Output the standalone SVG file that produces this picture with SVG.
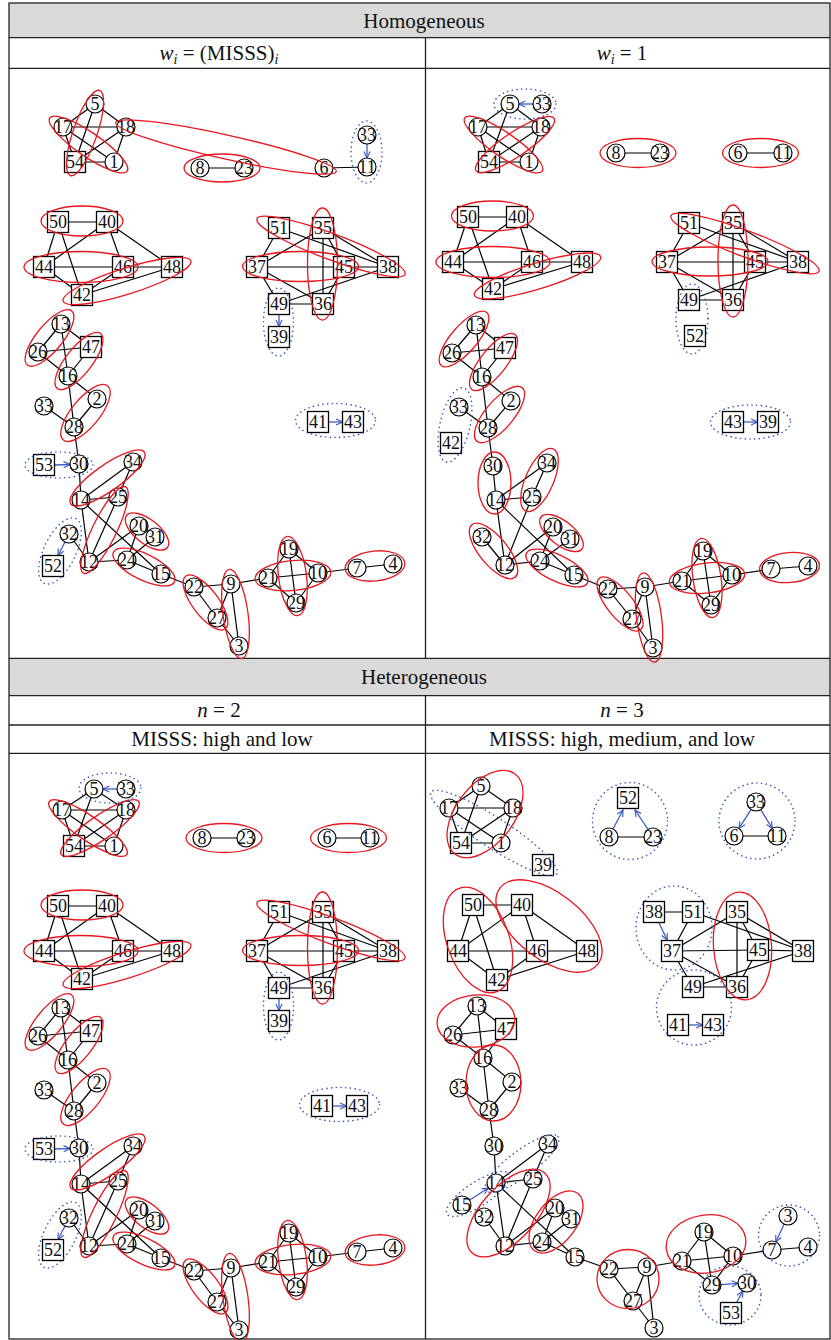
<svg xmlns="http://www.w3.org/2000/svg" width="831" height="1340" viewBox="0 0 831 1340">
<style>
.ln{stroke:#000;stroke-width:1.2;fill:none}
.nc{fill:#fff;stroke:#000;stroke-width:1.2}
.ns{fill:#fff;stroke:#000;stroke-width:1.3}
.nl{font-family:"Liberation Serif","DejaVu Serif",serif;font-size:18px;text-anchor:middle;fill:#111}
.rg{fill:none;stroke:#e8161e;stroke-width:1.3}
.bg{fill:none;stroke:#3b5bb5;stroke-width:1.6;stroke-dasharray:0.1 4.6;stroke-linecap:round}
.ar{stroke:#3f5fc0;stroke-width:1.3;fill:none;marker-end:url(#ah)}
.hd{font-family:"Liberation Serif","DejaVu Serif",serif;font-size:21px;text-anchor:middle;fill:#111}
.tb{fill:none;stroke:#222;stroke-width:1.3}
</style>
<defs>
<marker id="ah" viewBox="0 0 10 10" refX="9" refY="5" markerWidth="8" markerHeight="8" markerUnits="userSpaceOnUse" orient="auto"><path d="M1,1.2 L9,5 L1,8.8" fill="none" stroke="#3f5fc0" stroke-width="1.5"/></marker>
</defs>
<rect width="831" height="1340" fill="#fff"/>
<g id="table">
<rect x="9" y="3" width="821" height="34.7" fill="#d9d9d9"/>
<rect x="9" y="658.3" width="821" height="37.4" fill="#d9d9d9"/>
<rect class="tb" x="9" y="3" width="821" height="1336"/>
<line class="tb" x1="9" y1="37.7" x2="830" y2="37.7"/>
<line class="tb" x1="9" y1="68.3" x2="830" y2="68.3"/>
<line class="tb" x1="9" y1="658.3" x2="830" y2="658.3"/>
<line class="tb" x1="9" y1="695.7" x2="830" y2="695.7"/>
<line class="tb" x1="9" y1="725" x2="830" y2="725"/>
<line class="tb" x1="9" y1="753.3" x2="830" y2="753.3"/>
<line class="tb" x1="425.5" y1="37.7" x2="425.5" y2="658.3"/>
<line class="tb" x1="425.5" y1="695.7" x2="425.5" y2="1339"/>
<text class="hd" x="424" y="27.5">Homogeneous</text>
<text class="hd" x="219" y="60"><tspan font-style="italic">w</tspan><tspan font-style="italic" font-size="14" dy="4">i</tspan><tspan dy="-4"> = (MISSS)</tspan><tspan font-style="italic" font-size="14" dy="4">i</tspan></text>
<text class="hd" x="622" y="60"><tspan font-style="italic">w</tspan><tspan font-style="italic" font-size="14" dy="4">i</tspan><tspan dy="-4"> = 1</tspan></text>
<text class="hd" x="424" y="684">Heterogeneous</text>
<text class="hd" x="219" y="717"><tspan font-style="italic">n</tspan> = 2</text>
<text class="hd" x="622" y="717"><tspan font-style="italic">n</tspan> = 3</text>
<text class="hd" x="222" y="746">MISSS: high and low</text>
<text class="hd" x="622" y="746">MISSS: high, medium, and low</text>
</g>

<!-- ================= TOP LEFT ================= -->
<g id="tl-connectors" class="ln">
<line x1="95" y1="104" x2="63" y2="127"/><line x1="95" y1="104" x2="126" y2="127"/><line x1="95" y1="104" x2="75" y2="162"/>
<line x1="63" y1="127" x2="126" y2="127"/><line x1="63" y1="127" x2="75" y2="162"/><line x1="63" y1="127" x2="114" y2="162"/>
<line x1="126" y1="127" x2="75" y2="162"/><line x1="126" y1="127" x2="114" y2="162"/><line x1="75" y1="162" x2="114" y2="162"/>
<line x1="200" y1="168" x2="244" y2="168"/><line x1="324" y1="168" x2="367" y2="167"/>
<line class="ar" x1="367" y1="144" x2="367" y2="158"/>
</g>
<g id="tl-connectors-main" class="ln">
<line x1="58" y1="222" x2="107" y2="222"/><line x1="58" y1="222" x2="44" y2="267"/><line x1="58" y1="222" x2="82" y2="295"/>
<line x1="107" y1="222" x2="44" y2="267"/><line x1="107" y1="222" x2="123" y2="267"/><line x1="107" y1="222" x2="172" y2="267"/>
<line x1="44" y1="267" x2="123" y2="267"/><line x1="44" y1="267" x2="82" y2="295"/><line x1="123" y1="267" x2="172" y2="267"/>
<line x1="123" y1="267" x2="82" y2="295"/><line x1="172" y1="267" x2="82" y2="295"/>
<line x1="279" y1="228" x2="257" y2="267"/><line x1="279" y1="228" x2="388" y2="267"/><line x1="323" y1="228" x2="257" y2="267"/>
<line x1="323" y1="228" x2="344" y2="267"/><line x1="323" y1="228" x2="388" y2="267"/><line x1="323" y1="228" x2="323" y2="304"/>
<line x1="257" y1="267" x2="344" y2="267"/><line x1="344" y1="267" x2="388" y2="267"/><line x1="257" y1="267" x2="323" y2="304"/>
<line x1="257" y1="267" x2="279" y2="304"/><line x1="279" y1="304" x2="323" y2="304"/><line x1="279" y1="304" x2="388" y2="267"/>
<line x1="344" y1="267" x2="323" y2="304"/>
<line x1="61" y1="324" x2="38" y2="352"/><line x1="61" y1="324" x2="91" y2="347"/><line x1="61" y1="324" x2="68" y2="376"/>
<line x1="38" y1="352" x2="91" y2="347"/><line x1="38" y1="352" x2="68" y2="376"/><line x1="91" y1="347" x2="68" y2="376"/>
<line x1="68" y1="376" x2="97" y2="399"/><line x1="68" y1="376" x2="74" y2="427"/><line x1="97" y1="399" x2="74" y2="427"/>
<line x1="44" y1="406" x2="74" y2="427"/><line x1="74" y1="427" x2="79" y2="464"/><line x1="79" y1="464" x2="81" y2="500"/>
<line x1="81" y1="500" x2="133" y2="462"/><line x1="133" y1="462" x2="118" y2="497"/><line x1="81" y1="500" x2="118" y2="497"/>
<line x1="81" y1="500" x2="89" y2="562"/><line x1="81" y1="500" x2="161" y2="574"/><line x1="118" y1="497" x2="89" y2="562"/>
<line x1="69" y1="534" x2="89" y2="562"/><line x1="89" y1="562" x2="127" y2="560"/><line x1="89" y1="562" x2="139" y2="526"/>
<line x1="127" y1="560" x2="139" y2="526"/><line x1="127" y1="560" x2="155" y2="537"/><line x1="127" y1="560" x2="161" y2="574"/>
<line x1="161" y1="574" x2="194" y2="587"/><line x1="194" y1="587" x2="231" y2="584"/><line x1="194" y1="587" x2="217" y2="618"/>
<line x1="231" y1="584" x2="217" y2="618"/><line x1="231" y1="584" x2="239" y2="646"/><line x1="217" y1="618" x2="239" y2="646"/>
<line x1="231" y1="584" x2="268" y2="578"/><line x1="268" y1="578" x2="289" y2="549"/><line x1="268" y1="578" x2="318" y2="573"/>
<line x1="268" y1="578" x2="296" y2="603"/><line x1="289" y1="549" x2="318" y2="573"/><line x1="289" y1="549" x2="296" y2="603"/>
<line x1="318" y1="573" x2="296" y2="603"/><line x1="318" y1="573" x2="357" y2="568"/><line x1="357" y1="568" x2="393" y2="564"/>
<line class="ar" x1="279" y1="314.5" x2="279" y2="326.5"/>
<line class="ar" x1="54.5" y1="465" x2="70" y2="464.5"/>
<line class="ar" x1="328.5" y1="422" x2="342.5" y2="422"/>
<line class="ar" x1="65" y1="542" x2="58" y2="555.5"/>
</g>
<g id="tl-nodes">
<g id="tl-5"><circle class="nc" cx="95" cy="104" r="9"/><text class="nl" x="95" y="110">5</text></g>
<g id="tl-17"><circle class="nc" cx="63" cy="127" r="9"/><text class="nl" x="63" y="133">17</text></g>
<g id="tl-18"><circle class="nc" cx="126" cy="127" r="9"/><text class="nl" x="126" y="133">18</text></g>
<g id="tl-54"><rect class="ns" x="64.5" y="151.5" width="21" height="21"/><text class="nl" x="75" y="168">54</text></g>
<g id="tl-1"><circle class="nc" cx="114" cy="162" r="9"/><text class="nl" x="114" y="168">1</text></g>
<g id="tl-8"><circle class="nc" cx="200" cy="168" r="9"/><text class="nl" x="200" y="174">8</text></g>
<g id="tl-23"><circle class="nc" cx="244" cy="168" r="9"/><text class="nl" x="244" y="174">23</text></g>
<g id="tl-6"><circle class="nc" cx="324" cy="168" r="9"/><text class="nl" x="324" y="174">6</text></g>
<g id="tl-11"><circle class="nc" cx="367" cy="167" r="9"/><text class="nl" x="367" y="173">11</text></g>
<g id="tl-33"><circle class="nc" cx="367" cy="135" r="9"/><text class="nl" x="367" y="141">33</text></g>
<g id="tl-50"><rect class="ns" x="47.5" y="211.5" width="21" height="21"/><text class="nl" x="58" y="228">50</text></g>
<g id="tl-40"><rect class="ns" x="96.5" y="211.5" width="21" height="21"/><text class="nl" x="107" y="228">40</text></g>
<g id="tl-44"><rect class="ns" x="33.5" y="256.5" width="21" height="21"/><text class="nl" x="44" y="273">44</text></g>
<g id="tl-46"><rect class="ns" x="112.5" y="256.5" width="21" height="21"/><text class="nl" x="123" y="273">46</text></g>
<g id="tl-48"><rect class="ns" x="161.5" y="256.5" width="21" height="21"/><text class="nl" x="172" y="273">48</text></g>
<g id="tl-42"><rect class="ns" x="71.5" y="284.5" width="21" height="21"/><text class="nl" x="82" y="301">42</text></g>
<g id="tl-51"><rect class="ns" x="268.5" y="217.5" width="21" height="21"/><text class="nl" x="279" y="234">51</text></g>
<g id="tl-35"><rect class="ns" x="312.5" y="217.5" width="21" height="21"/><text class="nl" x="323" y="234">35</text></g>
<g id="tl-37"><rect class="ns" x="246.5" y="256.5" width="21" height="21"/><text class="nl" x="257" y="273">37</text></g>
<g id="tl-45"><rect class="ns" x="333.5" y="256.5" width="21" height="21"/><text class="nl" x="344" y="273">45</text></g>
<g id="tl-38"><rect class="ns" x="377.5" y="256.5" width="21" height="21"/><text class="nl" x="388" y="273">38</text></g>
<g id="tl-49"><rect class="ns" x="268.5" y="293.5" width="21" height="21"/><text class="nl" x="279" y="310">49</text></g>
<g id="tl-36"><rect class="ns" x="312.5" y="293.5" width="21" height="21"/><text class="nl" x="323" y="310">36</text></g>
<g id="tl-39"><rect class="ns" x="268.5" y="326.5" width="21" height="21"/><text class="nl" x="279" y="343">39</text></g>
<g id="tl-13"><circle class="nc" cx="61" cy="324" r="9"/><text class="nl" x="61" y="330">13</text></g>
<g id="tl-26"><circle class="nc" cx="38" cy="352" r="9"/><text class="nl" x="38" y="358">26</text></g>
<g id="tl-47"><rect class="ns" x="80.5" y="336.5" width="21" height="21"/><text class="nl" x="91" y="353">47</text></g>
<g id="tl-16"><circle class="nc" cx="68" cy="376" r="9"/><text class="nl" x="68" y="382">16</text></g>
<g id="tl-2"><circle class="nc" cx="97" cy="399" r="9"/><text class="nl" x="97" y="405">2</text></g>
<g id="tl-33b"><circle class="nc" cx="44" cy="406" r="9"/><text class="nl" x="44" y="412">33</text></g>
<g id="tl-28"><circle class="nc" cx="74" cy="427" r="9"/><text class="nl" x="74" y="433">28</text></g>
<g id="tl-53"><rect class="ns" x="33.5" y="454.5" width="21" height="21"/><text class="nl" x="44" y="471">53</text></g>
<g id="tl-30"><circle class="nc" cx="79" cy="464" r="9"/><text class="nl" x="79" y="470">30</text></g>
<g id="tl-34"><circle class="nc" cx="133" cy="462" r="9"/><text class="nl" x="133" y="468">34</text></g>
<g id="tl-41"><rect class="ns" x="307.5" y="411.5" width="21" height="21"/><text class="nl" x="318" y="428">41</text></g>
<g id="tl-43"><rect class="ns" x="342.5" y="411.5" width="21" height="21"/><text class="nl" x="353" y="428">43</text></g>
<g id="tl-14"><circle class="nc" cx="81" cy="500" r="9"/><text class="nl" x="81" y="506">14</text></g>
<g id="tl-25"><circle class="nc" cx="118" cy="497" r="9"/><text class="nl" x="118" y="503">25</text></g>
<g id="tl-32"><circle class="nc" cx="69" cy="534" r="9"/><text class="nl" x="69" y="540">32</text></g>
<g id="tl-52"><rect class="ns" x="42.5" y="555.5" width="21" height="21"/><text class="nl" x="53" y="572">52</text></g>
<g id="tl-12"><circle class="nc" cx="89" cy="562" r="9"/><text class="nl" x="89" y="568">12</text></g>
<g id="tl-20"><circle class="nc" cx="139" cy="526" r="9"/><text class="nl" x="139" y="532">20</text></g>
<g id="tl-31"><circle class="nc" cx="155" cy="537" r="9"/><text class="nl" x="155" y="543">31</text></g>
<g id="tl-24"><circle class="nc" cx="127" cy="560" r="9"/><text class="nl" x="127" y="566">24</text></g>
<g id="tl-15"><circle class="nc" cx="161" cy="574" r="9"/><text class="nl" x="161" y="580">15</text></g>
<g id="tl-22"><circle class="nc" cx="194" cy="587" r="9"/><text class="nl" x="194" y="593">22</text></g>
<g id="tl-9"><circle class="nc" cx="231" cy="584" r="9"/><text class="nl" x="231" y="590">9</text></g>
<g id="tl-27"><circle class="nc" cx="217" cy="618" r="9"/><text class="nl" x="217" y="624">27</text></g>
<g id="tl-3"><circle class="nc" cx="239" cy="646" r="9"/><text class="nl" x="239" y="652">3</text></g>
<g id="tl-21"><circle class="nc" cx="268" cy="578" r="9"/><text class="nl" x="268" y="584">21</text></g>
<g id="tl-19"><circle class="nc" cx="289" cy="549" r="9"/><text class="nl" x="289" y="555">19</text></g>
<g id="tl-10"><circle class="nc" cx="318" cy="573" r="9"/><text class="nl" x="318" y="579">10</text></g>
<g id="tl-29"><circle class="nc" cx="296" cy="603" r="9"/><text class="nl" x="296" y="609">29</text></g>
<g id="tl-7"><circle class="nc" cx="357" cy="568" r="9"/><text class="nl" x="357" y="574">7</text></g>
<g id="tl-4"><circle class="nc" cx="393" cy="564" r="9"/><text class="nl" x="393" y="570">4</text></g>
</g>
<g id="tl-groups">
<ellipse class="rg" cx="85" cy="133" rx="45" ry="12" transform="rotate(109 85 133)"/>
<ellipse class="rg" cx="88.5" cy="144.5" rx="47" ry="12" transform="rotate(34.5 88.5 144.5)"/>
<ellipse class="rg" cx="226" cy="147" rx="113" ry="12" transform="rotate(12.5 226 147)"/>
<ellipse class="rg" cx="222" cy="168" rx="38" ry="14"/>
<ellipse class="bg" cx="366.5" cy="152" rx="15.5" ry="31"/>
</g>
<g id="tl-groups-main">
<ellipse class="rg" cx="82" cy="221" rx="41" ry="15"/>
<ellipse class="rg" cx="81" cy="267" rx="57" ry="15.5"/>
<ellipse class="rg" cx="127" cy="281" rx="67" ry="13" transform="rotate(-17.5 127 281)"/>
<ellipse class="rg" cx="331" cy="246.5" rx="79" ry="13" transform="rotate(20.5 331 246.5)"/>
<ellipse class="rg" cx="300.5" cy="266.5" rx="58" ry="15"/>
<ellipse class="rg" cx="322.5" cy="264" rx="15" ry="56"/>
<ellipse class="rg" cx="49.5" cy="338" rx="35" ry="13" transform="rotate(-50.6 49.5 338)"/>
<ellipse class="rg" cx="79" cy="361" rx="35" ry="13" transform="rotate(-51.6 79 361)"/>
<ellipse class="rg" cx="85.5" cy="413" rx="35" ry="14" transform="rotate(-50.6 85.5 413)"/>
<ellipse class="rg" cx="107.5" cy="478" rx="45" ry="13" transform="rotate(-35 107.5 478)"/>
<ellipse class="rg" cx="104.5" cy="530" rx="48" ry="12" transform="rotate(116 104.5 530)"/>
<ellipse class="rg" cx="147" cy="531.5" rx="26" ry="12" transform="rotate(38 147 531.5)"/>
<ellipse class="rg" cx="144" cy="567" rx="34" ry="13" transform="rotate(26 144 567)"/>
<ellipse class="rg" cx="205.5" cy="602.5" rx="33" ry="13" transform="rotate(53 205.5 602.5)"/>
<ellipse class="rg" cx="235.5" cy="614" rx="45" ry="12.5" transform="rotate(82 235.5 614)"/>
<ellipse class="rg" cx="292.5" cy="576" rx="40" ry="14" transform="rotate(82.6 292.5 576)"/>
<ellipse class="rg" cx="293" cy="575.5" rx="38" ry="15" transform="rotate(-5.7 293 575.5)"/>
<ellipse class="rg" cx="375" cy="566" rx="30" ry="15" transform="rotate(-6 375 566)"/>
<ellipse class="bg" cx="278.5" cy="322" rx="15" ry="34"/>
<ellipse class="bg" cx="59" cy="465" rx="34" ry="13"/>
<ellipse class="bg" cx="335.5" cy="420.5" rx="40" ry="17"/>
<ellipse class="bg" cx="60" cy="551" rx="36" ry="16" transform="rotate(116 60 551)"/>
</g>

<!-- ================= TOP RIGHT ================= -->
<g id="tr-connectors" class="ln">
<line x1="510" y1="104" x2="478" y2="127"/><line x1="510" y1="104" x2="541" y2="127"/><line x1="510" y1="104" x2="489" y2="162"/>
<line x1="478" y1="127" x2="541" y2="127"/><line x1="478" y1="127" x2="489" y2="162"/><line x1="478" y1="127" x2="529" y2="162"/>
<line x1="541" y1="127" x2="489" y2="162"/><line x1="541" y1="127" x2="529" y2="162"/><line x1="489" y1="162" x2="529" y2="162"/>
<line x1="616" y1="153" x2="660" y2="153"/><line x1="738" y1="153" x2="783" y2="153"/>
<line x1="468" y1="217" x2="517" y2="217"/><line x1="468" y1="217" x2="453" y2="262"/><line x1="468" y1="217" x2="493" y2="289"/>
<line x1="517" y1="217" x2="453" y2="262"/><line x1="517" y1="217" x2="532" y2="262"/><line x1="517" y1="217" x2="582" y2="262"/>
<line x1="453" y1="262" x2="532" y2="262"/><line x1="453" y1="262" x2="493" y2="289"/><line x1="532" y1="262" x2="582" y2="262"/>
<line x1="532" y1="262" x2="493" y2="289"/><line x1="582" y1="262" x2="493" y2="289"/>
<line x1="689" y1="223" x2="667" y2="262"/><line x1="689" y1="223" x2="798" y2="262"/><line x1="733" y1="223" x2="667" y2="262"/>
<line x1="733" y1="223" x2="755" y2="262"/><line x1="733" y1="223" x2="798" y2="262"/><line x1="733" y1="223" x2="733" y2="300"/>
<line x1="667" y1="262" x2="755" y2="262"/><line x1="755" y1="262" x2="798" y2="262"/><line x1="667" y1="262" x2="733" y2="300"/>
<line x1="667" y1="262" x2="689" y2="300"/><line x1="689" y1="300" x2="733" y2="300"/><line x1="689" y1="300" x2="798" y2="262"/>
<line x1="755" y1="262" x2="733" y2="300"/>
<line x1="476" y1="325" x2="452" y2="353"/><line x1="476" y1="325" x2="505" y2="348"/><line x1="476" y1="325" x2="482" y2="377"/>
<line x1="452" y1="353" x2="505" y2="348"/><line x1="452" y1="353" x2="482" y2="377"/><line x1="505" y1="348" x2="482" y2="377"/>
<line x1="482" y1="377" x2="511" y2="401"/><line x1="482" y1="377" x2="488" y2="428"/><line x1="511" y1="401" x2="488" y2="428"/>
<line x1="459" y1="407" x2="488" y2="428"/><line x1="488" y1="428" x2="493" y2="466"/><line x1="493" y1="466" x2="496" y2="500"/>
<line x1="496" y1="500" x2="547" y2="463"/><line x1="547" y1="463" x2="532" y2="497"/><line x1="496" y1="500" x2="532" y2="497"/>
<line x1="496" y1="500" x2="505" y2="565"/><line x1="496" y1="500" x2="574" y2="575"/><line x1="532" y1="497" x2="505" y2="565"/>
<line x1="482" y1="537" x2="505" y2="565"/><line x1="505" y1="565" x2="540" y2="561"/><line x1="505" y1="565" x2="553" y2="527"/>
<line x1="540" y1="561" x2="553" y2="527"/><line x1="540" y1="561" x2="570" y2="539"/><line x1="540" y1="561" x2="574" y2="575"/>
<line x1="574" y1="575" x2="608" y2="589"/><line x1="608" y1="589" x2="645" y2="587"/><line x1="608" y1="589" x2="632" y2="619"/>
<line x1="645" y1="587" x2="632" y2="619"/><line x1="645" y1="587" x2="653" y2="648"/><line x1="632" y1="619" x2="653" y2="648"/>
<line x1="645" y1="587" x2="682" y2="581"/><line x1="682" y1="581" x2="703" y2="551"/><line x1="682" y1="581" x2="732" y2="575"/>
<line x1="682" y1="581" x2="711" y2="605"/><line x1="703" y1="551" x2="732" y2="575"/><line x1="703" y1="551" x2="711" y2="605"/>
<line x1="732" y1="575" x2="711" y2="605"/><line x1="732" y1="575" x2="771" y2="569"/><line x1="771" y1="569" x2="808" y2="566"/>
<line class="ar" x1="533" y1="104" x2="519" y2="104"/>
<line class="ar" x1="743.5" y1="422" x2="757.5" y2="422"/>
</g>
<g id="tr-nodes">
<g id="tr-5"><circle class="nc" cx="510" cy="104" r="9"/><text class="nl" x="510" y="110">5</text></g>
<g id="tr-33"><circle class="nc" cx="542" cy="104" r="9"/><text class="nl" x="542" y="110">33</text></g>
<g id="tr-17"><circle class="nc" cx="478" cy="127" r="9"/><text class="nl" x="478" y="133">17</text></g>
<g id="tr-18"><circle class="nc" cx="541" cy="127" r="9"/><text class="nl" x="541" y="133">18</text></g>
<g id="tr-54"><rect class="ns" x="478.5" y="151.5" width="21" height="21"/><text class="nl" x="489" y="168">54</text></g>
<g id="tr-1"><circle class="nc" cx="529" cy="162" r="9"/><text class="nl" x="529" y="168">1</text></g>
<g id="tr-8"><circle class="nc" cx="616" cy="153" r="9"/><text class="nl" x="616" y="159">8</text></g>
<g id="tr-23"><circle class="nc" cx="660" cy="153" r="9"/><text class="nl" x="660" y="159">23</text></g>
<g id="tr-6"><circle class="nc" cx="738" cy="153" r="9"/><text class="nl" x="738" y="159">6</text></g>
<g id="tr-11"><circle class="nc" cx="783" cy="153" r="9"/><text class="nl" x="783" y="159">11</text></g>
<g id="tr-50"><rect class="ns" x="457.5" y="206.5" width="21" height="21"/><text class="nl" x="468" y="223">50</text></g>
<g id="tr-40"><rect class="ns" x="506.5" y="206.5" width="21" height="21"/><text class="nl" x="517" y="223">40</text></g>
<g id="tr-44"><rect class="ns" x="442.5" y="251.5" width="21" height="21"/><text class="nl" x="453" y="268">44</text></g>
<g id="tr-46"><rect class="ns" x="521.5" y="251.5" width="21" height="21"/><text class="nl" x="532" y="268">46</text></g>
<g id="tr-48"><rect class="ns" x="571.5" y="251.5" width="21" height="21"/><text class="nl" x="582" y="268">48</text></g>
<g id="tr-42"><rect class="ns" x="482.5" y="278.5" width="21" height="21"/><text class="nl" x="493" y="295">42</text></g>
<g id="tr-51"><rect class="ns" x="678.5" y="212.5" width="21" height="21"/><text class="nl" x="689" y="229">51</text></g>
<g id="tr-35"><rect class="ns" x="722.5" y="212.5" width="21" height="21"/><text class="nl" x="733" y="229">35</text></g>
<g id="tr-37"><rect class="ns" x="656.5" y="251.5" width="21" height="21"/><text class="nl" x="667" y="268">37</text></g>
<g id="tr-45"><rect class="ns" x="744.5" y="251.5" width="21" height="21"/><text class="nl" x="755" y="268">45</text></g>
<g id="tr-38"><rect class="ns" x="787.5" y="251.5" width="21" height="21"/><text class="nl" x="798" y="268">38</text></g>
<g id="tr-49"><rect class="ns" x="678.5" y="289.5" width="21" height="21"/><text class="nl" x="689" y="306">49</text></g>
<g id="tr-36"><rect class="ns" x="722.5" y="289.5" width="21" height="21"/><text class="nl" x="733" y="306">36</text></g>
<g id="tr-52"><rect class="ns" x="684.5" y="325.5" width="21" height="21"/><text class="nl" x="695" y="342">52</text></g>
<g id="tr-13"><circle class="nc" cx="476" cy="325" r="9"/><text class="nl" x="476" y="331">13</text></g>
<g id="tr-26"><circle class="nc" cx="452" cy="353" r="9"/><text class="nl" x="452" y="359">26</text></g>
<g id="tr-47"><rect class="ns" x="494.5" y="337.5" width="21" height="21"/><text class="nl" x="505" y="354">47</text></g>
<g id="tr-16"><circle class="nc" cx="482" cy="377" r="9"/><text class="nl" x="482" y="383">16</text></g>
<g id="tr-2"><circle class="nc" cx="511" cy="401" r="9"/><text class="nl" x="511" y="407">2</text></g>
<g id="tr-33b"><circle class="nc" cx="459" cy="407" r="9"/><text class="nl" x="459" y="413">33</text></g>
<g id="tr-28"><circle class="nc" cx="488" cy="428" r="9"/><text class="nl" x="488" y="434">28</text></g>
<g id="tr-42b"><rect class="ns" x="440.5" y="432.5" width="21" height="21"/><text class="nl" x="451" y="449">42</text></g>
<g id="tr-30"><circle class="nc" cx="493" cy="466" r="9"/><text class="nl" x="493" y="472">30</text></g>
<g id="tr-34"><circle class="nc" cx="547" cy="463" r="9"/><text class="nl" x="547" y="469">34</text></g>
<g id="tr-43"><rect class="ns" x="722.5" y="411.5" width="21" height="21"/><text class="nl" x="733" y="428">43</text></g>
<g id="tr-39"><rect class="ns" x="757.5" y="411.5" width="21" height="21"/><text class="nl" x="768" y="428">39</text></g>
<g id="tr-14"><circle class="nc" cx="496" cy="500" r="9"/><text class="nl" x="496" y="506">14</text></g>
<g id="tr-25"><circle class="nc" cx="532" cy="497" r="9"/><text class="nl" x="532" y="503">25</text></g>
<g id="tr-32"><circle class="nc" cx="482" cy="537" r="9"/><text class="nl" x="482" y="543">32</text></g>
<g id="tr-12"><circle class="nc" cx="505" cy="565" r="9"/><text class="nl" x="505" y="571">12</text></g>
<g id="tr-20"><circle class="nc" cx="553" cy="527" r="9"/><text class="nl" x="553" y="533">20</text></g>
<g id="tr-31"><circle class="nc" cx="570" cy="539" r="9"/><text class="nl" x="570" y="545">31</text></g>
<g id="tr-24"><circle class="nc" cx="540" cy="561" r="9"/><text class="nl" x="540" y="567">24</text></g>
<g id="tr-15"><circle class="nc" cx="574" cy="575" r="9"/><text class="nl" x="574" y="581">15</text></g>
<g id="tr-22"><circle class="nc" cx="608" cy="589" r="9"/><text class="nl" x="608" y="595">22</text></g>
<g id="tr-9"><circle class="nc" cx="645" cy="587" r="9"/><text class="nl" x="645" y="593">9</text></g>
<g id="tr-27"><circle class="nc" cx="632" cy="619" r="9"/><text class="nl" x="632" y="625">27</text></g>
<g id="tr-3"><circle class="nc" cx="653" cy="648" r="9"/><text class="nl" x="653" y="654">3</text></g>
<g id="tr-21"><circle class="nc" cx="682" cy="581" r="9"/><text class="nl" x="682" y="587">21</text></g>
<g id="tr-19"><circle class="nc" cx="703" cy="551" r="9"/><text class="nl" x="703" y="557">19</text></g>
<g id="tr-10"><circle class="nc" cx="732" cy="575" r="9"/><text class="nl" x="732" y="581">10</text></g>
<g id="tr-29"><circle class="nc" cx="711" cy="605" r="9"/><text class="nl" x="711" y="611">29</text></g>
<g id="tr-7"><circle class="nc" cx="771" cy="569" r="9"/><text class="nl" x="771" y="575">7</text></g>
<g id="tr-4"><circle class="nc" cx="808" cy="566" r="9"/><text class="nl" x="808" y="572">4</text></g>
</g>
<g id="tr-groups">
<ellipse class="rg" cx="503.5" cy="144.5" rx="47" ry="12" transform="rotate(34.5 503.5 144.5)"/>
<ellipse class="rg" cx="515" cy="144.5" rx="47" ry="12" transform="rotate(-34 515 144.5)"/>
<ellipse class="rg" cx="638" cy="153" rx="38" ry="14.5"/>
<ellipse class="rg" cx="760.5" cy="153" rx="38" ry="14.5"/>
<ellipse class="rg" cx="492.5" cy="216" rx="41" ry="15"/>
<ellipse class="rg" cx="493" cy="262" rx="57" ry="15.5"/>
<ellipse class="rg" cx="537.5" cy="276" rx="66" ry="13" transform="rotate(-17 537.5 276)"/>
<ellipse class="rg" cx="745" cy="243.5" rx="79" ry="13" transform="rotate(20.5 745 243.5)"/>
<ellipse class="rg" cx="710" cy="261.5" rx="58" ry="14.5"/>
<ellipse class="rg" cx="733" cy="261" rx="15" ry="56"/>
<ellipse class="rg" cx="464" cy="339" rx="35" ry="13" transform="rotate(-49.4 464 339)"/>
<ellipse class="rg" cx="493.5" cy="362" rx="35" ry="13" transform="rotate(-51.6 493.5 362)"/>
<ellipse class="rg" cx="499.5" cy="414.5" rx="35" ry="14" transform="rotate(-49.6 499.5 414.5)"/>
<ellipse class="rg" cx="494.5" cy="483" rx="16.5" ry="31"/>
<ellipse class="rg" cx="539.5" cy="480" rx="34" ry="14" transform="rotate(113.8 539.5 480)"/>
<ellipse class="rg" cx="493.5" cy="551" rx="34" ry="14" transform="rotate(50.6 493.5 551)"/>
<ellipse class="rg" cx="561.5" cy="533" rx="26" ry="12" transform="rotate(38 561.5 533)"/>
<ellipse class="rg" cx="557" cy="568" rx="34" ry="13" transform="rotate(26 557 568)"/>
<ellipse class="rg" cx="620" cy="604" rx="33" ry="13" transform="rotate(51.3 620 604)"/>
<ellipse class="rg" cx="649" cy="617.5" rx="45" ry="12.5" transform="rotate(82.5 649 617.5)"/>
<ellipse class="rg" cx="707" cy="578" rx="40" ry="14" transform="rotate(81.6 707 578)"/>
<ellipse class="rg" cx="707" cy="578" rx="38" ry="15" transform="rotate(-6.8 707 578)"/>
<ellipse class="rg" cx="789.5" cy="567.5" rx="30" ry="15" transform="rotate(-4.6 789.5 567.5)"/>
<ellipse class="bg" cx="525" cy="104" rx="31" ry="15"/>
<ellipse class="bg" cx="692" cy="319" rx="16" ry="35"/>
<ellipse class="bg" cx="455" cy="425" rx="38" ry="15" transform="rotate(103 455 425)"/>
<ellipse class="bg" cx="750.5" cy="422" rx="40" ry="17"/>
</g>

<!-- ================= BOTTOM LEFT ================= -->
<g id="bl-connectors" class="ln">
<line x1="94" y1="789" x2="62" y2="810"/><line x1="94" y1="789" x2="126" y2="810"/><line x1="94" y1="789" x2="74" y2="846"/>
<line x1="62" y1="810" x2="126" y2="810"/><line x1="62" y1="810" x2="74" y2="846"/><line x1="62" y1="810" x2="114" y2="846"/>
<line x1="126" y1="810" x2="74" y2="846"/><line x1="126" y1="810" x2="114" y2="846"/><line x1="74" y1="846" x2="114" y2="846"/>
<line x1="202" y1="838" x2="246" y2="838"/><line x1="327" y1="838" x2="370" y2="838"/>
<line class="ar" x1="117" y1="789" x2="103" y2="789"/>
</g>
<g id="bl-connectors-main" class="ln" transform="translate(0,684)">
<line x1="58" y1="222" x2="107" y2="222"/><line x1="58" y1="222" x2="44" y2="267"/><line x1="58" y1="222" x2="82" y2="295"/>
<line x1="107" y1="222" x2="44" y2="267"/><line x1="107" y1="222" x2="123" y2="267"/><line x1="107" y1="222" x2="172" y2="267"/>
<line x1="44" y1="267" x2="123" y2="267"/><line x1="44" y1="267" x2="82" y2="295"/><line x1="123" y1="267" x2="172" y2="267"/>
<line x1="123" y1="267" x2="82" y2="295"/><line x1="172" y1="267" x2="82" y2="295"/>
<line x1="279" y1="228" x2="257" y2="267"/><line x1="279" y1="228" x2="388" y2="267"/><line x1="323" y1="228" x2="257" y2="267"/>
<line x1="323" y1="228" x2="344" y2="267"/><line x1="323" y1="228" x2="388" y2="267"/><line x1="323" y1="228" x2="323" y2="304"/>
<line x1="257" y1="267" x2="344" y2="267"/><line x1="344" y1="267" x2="388" y2="267"/><line x1="257" y1="267" x2="323" y2="304"/>
<line x1="257" y1="267" x2="279" y2="304"/><line x1="279" y1="304" x2="323" y2="304"/><line x1="279" y1="304" x2="388" y2="267"/>
<line x1="344" y1="267" x2="323" y2="304"/>
<line x1="61" y1="324" x2="38" y2="352"/><line x1="61" y1="324" x2="91" y2="347"/><line x1="61" y1="324" x2="68" y2="376"/>
<line x1="38" y1="352" x2="91" y2="347"/><line x1="38" y1="352" x2="68" y2="376"/><line x1="91" y1="347" x2="68" y2="376"/>
<line x1="68" y1="376" x2="97" y2="399"/><line x1="68" y1="376" x2="74" y2="427"/><line x1="97" y1="399" x2="74" y2="427"/>
<line x1="44" y1="406" x2="74" y2="427"/><line x1="74" y1="427" x2="79" y2="464"/><line x1="79" y1="464" x2="81" y2="500"/>
<line x1="81" y1="500" x2="133" y2="462"/><line x1="133" y1="462" x2="118" y2="497"/><line x1="81" y1="500" x2="118" y2="497"/>
<line x1="81" y1="500" x2="89" y2="562"/><line x1="81" y1="500" x2="161" y2="574"/><line x1="118" y1="497" x2="89" y2="562"/>
<line x1="69" y1="534" x2="89" y2="562"/><line x1="89" y1="562" x2="127" y2="560"/><line x1="89" y1="562" x2="139" y2="526"/>
<line x1="127" y1="560" x2="139" y2="526"/><line x1="127" y1="560" x2="155" y2="537"/><line x1="127" y1="560" x2="161" y2="574"/>
<line x1="161" y1="574" x2="194" y2="587"/><line x1="194" y1="587" x2="231" y2="584"/><line x1="194" y1="587" x2="217" y2="618"/>
<line x1="231" y1="584" x2="217" y2="618"/><line x1="231" y1="584" x2="239" y2="646"/><line x1="217" y1="618" x2="239" y2="646"/>
<line x1="231" y1="584" x2="268" y2="578"/><line x1="268" y1="578" x2="289" y2="549"/><line x1="268" y1="578" x2="318" y2="573"/>
<line x1="268" y1="578" x2="296" y2="603"/><line x1="289" y1="549" x2="318" y2="573"/><line x1="289" y1="549" x2="296" y2="603"/>
<line x1="318" y1="573" x2="296" y2="603"/><line x1="318" y1="573" x2="357" y2="568"/><line x1="357" y1="568" x2="393" y2="564"/>
<line class="ar" x1="279" y1="314.5" x2="279" y2="326.5"/>
<line class="ar" x1="54.5" y1="465" x2="70" y2="464.5"/>
<line class="ar" x1="332.5" y1="422" x2="346.5" y2="422"/>
<line class="ar" x1="65" y1="542" x2="58" y2="555.5"/>
</g>
<g id="bl-nodes">
<g id="bl-5"><circle class="nc" cx="94" cy="789" r="9"/><text class="nl" x="94" y="795">5</text></g>
<g id="bl-33"><circle class="nc" cx="126" cy="789" r="9"/><text class="nl" x="126" y="795">33</text></g>
<g id="bl-17"><circle class="nc" cx="62" cy="810" r="9"/><text class="nl" x="62" y="816">17</text></g>
<g id="bl-18"><circle class="nc" cx="126" cy="810" r="9"/><text class="nl" x="126" y="816">18</text></g>
<g id="bl-54"><rect class="ns" x="63.5" y="835.5" width="21" height="21"/><text class="nl" x="74" y="852">54</text></g>
<g id="bl-1"><circle class="nc" cx="114" cy="846" r="9"/><text class="nl" x="114" y="852">1</text></g>
<g id="bl-8"><circle class="nc" cx="202" cy="838" r="9"/><text class="nl" x="202" y="844">8</text></g>
<g id="bl-23"><circle class="nc" cx="246" cy="838" r="9"/><text class="nl" x="246" y="844">23</text></g>
<g id="bl-6"><circle class="nc" cx="327" cy="838" r="9"/><text class="nl" x="327" y="844">6</text></g>
<g id="bl-11"><circle class="nc" cx="370" cy="838" r="9"/><text class="nl" x="370" y="844">11</text></g>
<g transform="translate(0,684)">
<g id="bl-50"><rect class="ns" x="47.5" y="211.5" width="21" height="21"/><text class="nl" x="58" y="228">50</text></g>
<g id="bl-40"><rect class="ns" x="96.5" y="211.5" width="21" height="21"/><text class="nl" x="107" y="228">40</text></g>
<g id="bl-44"><rect class="ns" x="33.5" y="256.5" width="21" height="21"/><text class="nl" x="44" y="273">44</text></g>
<g id="bl-46"><rect class="ns" x="112.5" y="256.5" width="21" height="21"/><text class="nl" x="123" y="273">46</text></g>
<g id="bl-48"><rect class="ns" x="161.5" y="256.5" width="21" height="21"/><text class="nl" x="172" y="273">48</text></g>
<g id="bl-42"><rect class="ns" x="71.5" y="284.5" width="21" height="21"/><text class="nl" x="82" y="301">42</text></g>
<g id="bl-51"><rect class="ns" x="268.5" y="217.5" width="21" height="21"/><text class="nl" x="279" y="234">51</text></g>
<g id="bl-35"><rect class="ns" x="312.5" y="217.5" width="21" height="21"/><text class="nl" x="323" y="234">35</text></g>
<g id="bl-37"><rect class="ns" x="246.5" y="256.5" width="21" height="21"/><text class="nl" x="257" y="273">37</text></g>
<g id="bl-45"><rect class="ns" x="333.5" y="256.5" width="21" height="21"/><text class="nl" x="344" y="273">45</text></g>
<g id="bl-38"><rect class="ns" x="377.5" y="256.5" width="21" height="21"/><text class="nl" x="388" y="273">38</text></g>
<g id="bl-49"><rect class="ns" x="268.5" y="293.5" width="21" height="21"/><text class="nl" x="279" y="310">49</text></g>
<g id="bl-36"><rect class="ns" x="312.5" y="293.5" width="21" height="21"/><text class="nl" x="323" y="310">36</text></g>
<g id="bl-39"><rect class="ns" x="268.5" y="326.5" width="21" height="21" stroke-width="2"/><text class="nl" x="279" y="343">39</text></g>
<g id="bl-13"><circle class="nc" cx="61" cy="324" r="9"/><text class="nl" x="61" y="330">13</text></g>
<g id="bl-26"><circle class="nc" cx="38" cy="352" r="9"/><text class="nl" x="38" y="358">26</text></g>
<g id="bl-47"><rect class="ns" x="80.5" y="336.5" width="21" height="21"/><text class="nl" x="91" y="353">47</text></g>
<g id="bl-16"><circle class="nc" cx="68" cy="376" r="9"/><text class="nl" x="68" y="382">16</text></g>
<g id="bl-2"><circle class="nc" cx="97" cy="399" r="9"/><text class="nl" x="97" y="405">2</text></g>
<g id="bl-33b"><circle class="nc" cx="44" cy="406" r="9"/><text class="nl" x="44" y="412">33</text></g>
<g id="bl-28"><circle class="nc" cx="74" cy="427" r="9"/><text class="nl" x="74" y="433">28</text></g>
<g id="bl-53"><rect class="ns" x="33.5" y="454.5" width="21" height="21"/><text class="nl" x="44" y="471">53</text></g>
<g id="bl-30"><circle class="nc" cx="79" cy="464" r="9"/><text class="nl" x="79" y="470">30</text></g>
<g id="bl-34"><circle class="nc" cx="133" cy="462" r="9"/><text class="nl" x="133" y="468">34</text></g>
<g id="bl-41"><rect class="ns" x="311.5" y="411.5" width="21" height="21"/><text class="nl" x="322" y="428">41</text></g>
<g id="bl-43"><rect class="ns" x="346.5" y="411.5" width="21" height="21"/><text class="nl" x="357" y="428">43</text></g>
<g id="bl-14"><circle class="nc" cx="81" cy="500" r="9"/><text class="nl" x="81" y="506">14</text></g>
<g id="bl-25"><circle class="nc" cx="118" cy="497" r="9"/><text class="nl" x="118" y="503">25</text></g>
<g id="bl-32"><circle class="nc" cx="69" cy="534" r="9"/><text class="nl" x="69" y="540">32</text></g>
<g id="bl-52"><rect class="ns" x="42.5" y="555.5" width="21" height="21"/><text class="nl" x="53" y="572">52</text></g>
<g id="bl-12"><circle class="nc" cx="89" cy="562" r="9"/><text class="nl" x="89" y="568">12</text></g>
<g id="bl-20"><circle class="nc" cx="139" cy="526" r="9"/><text class="nl" x="139" y="532">20</text></g>
<g id="bl-31"><circle class="nc" cx="155" cy="537" r="9"/><text class="nl" x="155" y="543">31</text></g>
<g id="bl-24"><circle class="nc" cx="127" cy="560" r="9"/><text class="nl" x="127" y="566">24</text></g>
<g id="bl-15"><circle class="nc" cx="161" cy="574" r="9"/><text class="nl" x="161" y="580">15</text></g>
<g id="bl-22"><circle class="nc" cx="194" cy="587" r="9"/><text class="nl" x="194" y="593">22</text></g>
<g id="bl-9"><circle class="nc" cx="231" cy="584" r="9"/><text class="nl" x="231" y="590">9</text></g>
<g id="bl-27"><circle class="nc" cx="217" cy="618" r="9"/><text class="nl" x="217" y="624">27</text></g>
<g id="bl-3"><circle class="nc" cx="239" cy="646" r="9"/><text class="nl" x="239" y="652">3</text></g>
<g id="bl-21"><circle class="nc" cx="268" cy="578" r="9"/><text class="nl" x="268" y="584">21</text></g>
<g id="bl-19"><circle class="nc" cx="289" cy="549" r="9"/><text class="nl" x="289" y="555">19</text></g>
<g id="bl-10"><circle class="nc" cx="318" cy="573" r="9"/><text class="nl" x="318" y="579">10</text></g>
<g id="bl-29"><circle class="nc" cx="296" cy="603" r="9"/><text class="nl" x="296" y="609">29</text></g>
<g id="bl-7"><circle class="nc" cx="357" cy="568" r="9"/><text class="nl" x="357" y="574">7</text></g>
<g id="bl-4"><circle class="nc" cx="393" cy="564" r="9"/><text class="nl" x="393" y="570">4</text></g>
</g>
</g>
<g id="bl-groups">
<ellipse class="rg" cx="88" cy="828" rx="47" ry="12" transform="rotate(34.5 88 828)"/>
<ellipse class="rg" cx="100" cy="828" rx="47" ry="12" transform="rotate(-34.5 100 828)"/>
<ellipse class="rg" cx="224" cy="838" rx="38" ry="14.5"/>
<ellipse class="rg" cx="348.5" cy="838" rx="38" ry="14.5"/>
<ellipse class="bg" cx="110" cy="788" rx="31" ry="15"/>
</g>
<g id="bl-groups-main" transform="translate(0,684)">
<ellipse class="rg" cx="82" cy="221" rx="41" ry="15"/>
<ellipse class="rg" cx="81" cy="267" rx="57" ry="15.5"/>
<ellipse class="rg" cx="127" cy="281" rx="67" ry="13" transform="rotate(-17.5 127 281)"/>
<ellipse class="rg" cx="331" cy="246.5" rx="79" ry="13" transform="rotate(20.5 331 246.5)"/>
<ellipse class="rg" cx="300.5" cy="266.5" rx="58" ry="15"/>
<ellipse class="rg" cx="322.5" cy="264" rx="15" ry="56"/>
<ellipse class="rg" cx="49.5" cy="338" rx="35" ry="13" transform="rotate(-50.6 49.5 338)"/>
<ellipse class="rg" cx="79" cy="361" rx="35" ry="13" transform="rotate(-51.6 79 361)"/>
<ellipse class="rg" cx="85.5" cy="413" rx="35" ry="14" transform="rotate(-50.6 85.5 413)"/>
<ellipse class="rg" cx="107.5" cy="478" rx="45" ry="13" transform="rotate(-35 107.5 478)"/>
<ellipse class="rg" cx="104.5" cy="530" rx="48" ry="12" transform="rotate(116 104.5 530)"/>
<ellipse class="rg" cx="147" cy="531.5" rx="26" ry="12" transform="rotate(38 147 531.5)"/>
<ellipse class="rg" cx="144" cy="567" rx="34" ry="13" transform="rotate(26 144 567)"/>
<ellipse class="rg" cx="205.5" cy="602.5" rx="33" ry="13" transform="rotate(53 205.5 602.5)"/>
<ellipse class="rg" cx="235.5" cy="614" rx="45" ry="12.5" transform="rotate(82 235.5 614)"/>
<ellipse class="rg" cx="292.5" cy="576" rx="40" ry="14" transform="rotate(82.6 292.5 576)"/>
<ellipse class="rg" cx="293" cy="575.5" rx="38" ry="15" transform="rotate(-5.7 293 575.5)"/>
<ellipse class="rg" cx="375" cy="566" rx="30" ry="15" transform="rotate(-6 375 566)"/>
<ellipse class="bg" cx="278.5" cy="322" rx="15" ry="34"/>
<ellipse class="bg" cx="59" cy="465" rx="34" ry="13"/>
<ellipse class="bg" cx="339.5" cy="420.5" rx="40" ry="17"/>
<ellipse class="bg" cx="60" cy="551" rx="36" ry="16" transform="rotate(116 60 551)"/>
</g>

<!-- ================= BOTTOM RIGHT ================= -->
<g id="br-connectors" class="ln">
<line x1="481" y1="786" x2="449" y2="808"/><line x1="481" y1="786" x2="513" y2="808"/><line x1="481" y1="786" x2="461" y2="843"/>
<line x1="449" y1="808" x2="513" y2="808"/><line x1="449" y1="808" x2="461" y2="843"/><line x1="449" y1="808" x2="501" y2="843"/>
<line x1="513" y1="808" x2="461" y2="843"/><line x1="513" y1="808" x2="501" y2="843"/><line x1="461" y1="843" x2="501" y2="843"/>
<line x1="609" y1="837" x2="653" y2="837"/><line x1="734" y1="836" x2="777" y2="836"/>
<line x1="473" y1="905" x2="522" y2="905"/><line x1="473" y1="905" x2="458" y2="951"/><line x1="473" y1="905" x2="497" y2="980"/>
<line x1="522" y1="905" x2="458" y2="951"/><line x1="522" y1="905" x2="537" y2="951"/><line x1="522" y1="905" x2="587" y2="951"/>
<line x1="458" y1="951" x2="537" y2="951"/><line x1="458" y1="951" x2="497" y2="980"/><line x1="537" y1="951" x2="587" y2="951"/>
<line x1="537" y1="951" x2="497" y2="980"/><line x1="587" y1="951" x2="497" y2="980"/>
<line x1="654" y1="912" x2="693" y2="912"/>
<line x1="693" y1="912" x2="672" y2="951"/><line x1="693" y1="912" x2="803" y2="951"/><line x1="737" y1="912" x2="672" y2="951"/>
<line x1="737" y1="912" x2="758" y2="950"/><line x1="737" y1="912" x2="803" y2="951"/><line x1="737" y1="912" x2="737" y2="987"/>
<line x1="672" y1="951" x2="758" y2="950"/><line x1="758" y1="950" x2="803" y2="951"/><line x1="672" y1="951" x2="737" y2="987"/>
<line x1="672" y1="951" x2="693" y2="987"/><line x1="693" y1="987" x2="737" y2="987"/><line x1="693" y1="987" x2="803" y2="951"/>
<line x1="758" y1="950" x2="737" y2="987"/>
<line x1="477" y1="1006" x2="453" y2="1035"/><line x1="477" y1="1006" x2="506" y2="1029"/><line x1="477" y1="1006" x2="483" y2="1058"/>
<line x1="453" y1="1035" x2="506" y2="1029"/><line x1="453" y1="1035" x2="483" y2="1058"/><line x1="506" y1="1029" x2="483" y2="1058"/>
<line x1="483" y1="1058" x2="512" y2="1082"/><line x1="483" y1="1058" x2="489" y2="1110"/><line x1="512" y1="1082" x2="489" y2="1110"/>
<line x1="459" y1="1088" x2="489" y2="1110"/><line x1="489" y1="1110" x2="494" y2="1146"/><line x1="494" y1="1146" x2="496" y2="1183"/>
<line x1="496" y1="1183" x2="548" y2="1144"/><line x1="548" y1="1144" x2="533" y2="1179"/><line x1="496" y1="1183" x2="533" y2="1179"/>
<line x1="496" y1="1183" x2="505" y2="1246"/><line x1="496" y1="1183" x2="575" y2="1257"/><line x1="533" y1="1179" x2="505" y2="1246"/>
<line x1="484" y1="1217" x2="505" y2="1246"/><line x1="505" y1="1246" x2="542" y2="1242"/><line x1="505" y1="1246" x2="555" y2="1208"/>
<line x1="542" y1="1242" x2="555" y2="1208"/><line x1="542" y1="1242" x2="571" y2="1219"/><line x1="542" y1="1242" x2="575" y2="1257"/>
<line x1="575" y1="1257" x2="609" y2="1269"/><line x1="609" y1="1269" x2="647" y2="1267"/><line x1="609" y1="1269" x2="633" y2="1301"/>
<line x1="647" y1="1267" x2="633" y2="1301"/><line x1="647" y1="1267" x2="654" y2="1328"/><line x1="633" y1="1301" x2="654" y2="1328"/>
<line x1="647" y1="1267" x2="682" y2="1261"/><line x1="682" y1="1261" x2="704" y2="1232"/><line x1="682" y1="1261" x2="733" y2="1256"/>
<line x1="682" y1="1261" x2="712" y2="1285"/><line x1="704" y1="1232" x2="733" y2="1256"/><line x1="704" y1="1232" x2="712" y2="1285"/>
<line x1="733" y1="1256" x2="712" y2="1285"/><line x1="733" y1="1256" x2="772" y2="1250"/><line x1="772" y1="1250" x2="808" y2="1247"/>
<line class="ar" x1="613" y1="829" x2="623" y2="810"/>
<line class="ar" x1="648" y1="829.4" x2="635" y2="810"/>
<line class="ar" x1="751" y1="809.6" x2="739" y2="828.4"/>
<line class="ar" x1="760.7" y1="809.6" x2="772.3" y2="828.4"/>
<line class="ar" x1="658.8" y1="922.5" x2="667.2" y2="940"/>
<line class="ar" x1="688.5" y1="1025" x2="702.5" y2="1025"/>
<line class="ar" x1="469.6" y1="1200" x2="488.4" y2="1188"/>
<line class="ar" x1="784.2" y1="1224" x2="775.8" y2="1242"/>
<line class="ar" x1="721" y1="1284.7" x2="738" y2="1283.3"/>
<line class="ar" x1="736.6" y1="1302.5" x2="742.8" y2="1291"/>
</g>
<g id="br-nodes">
<g id="br-5"><circle class="nc" cx="481" cy="786" r="9"/><text class="nl" x="481" y="792">5</text></g>
<g id="br-17"><circle class="nc" cx="449" cy="808" r="9"/><text class="nl" x="449" y="814">17</text></g>
<g id="br-18"><circle class="nc" cx="513" cy="808" r="9"/><text class="nl" x="513" y="814">18</text></g>
<g id="br-54"><rect class="ns" x="450.5" y="832.5" width="21" height="21"/><text class="nl" x="461" y="849">54</text></g>
<g id="br-1"><circle class="nc" cx="501" cy="843" r="9"/><text class="nl" x="501" y="849">1</text></g>
<g id="br-39"><rect class="ns" x="532.5" y="854.5" width="21" height="21"/><text class="nl" x="543" y="871">39</text></g>
<g id="br-52"><rect class="ns" x="617.5" y="787.5" width="21" height="21"/><text class="nl" x="628" y="804">52</text></g>
<g id="br-8"><circle class="nc" cx="609" cy="837" r="9"/><text class="nl" x="609" y="843">8</text></g>
<g id="br-23"><circle class="nc" cx="653" cy="837" r="9"/><text class="nl" x="653" y="843">23</text></g>
<g id="br-33"><circle class="nc" cx="756" cy="802" r="9"/><text class="nl" x="756" y="808">33</text></g>
<g id="br-6"><circle class="nc" cx="734" cy="836" r="9"/><text class="nl" x="734" y="842">6</text></g>
<g id="br-11"><circle class="nc" cx="777" cy="836" r="9"/><text class="nl" x="777" y="842">11</text></g>
<g id="br-50"><rect class="ns" x="462.5" y="894.5" width="21" height="21"/><text class="nl" x="473" y="911">50</text></g>
<g id="br-40"><rect class="ns" x="511.5" y="894.5" width="21" height="21"/><text class="nl" x="522" y="911">40</text></g>
<g id="br-44"><rect class="ns" x="447.5" y="940.5" width="21" height="21"/><text class="nl" x="458" y="957">44</text></g>
<g id="br-46"><rect class="ns" x="526.5" y="940.5" width="21" height="21"/><text class="nl" x="537" y="957">46</text></g>
<g id="br-48"><rect class="ns" x="576.5" y="940.5" width="21" height="21"/><text class="nl" x="587" y="957">48</text></g>
<g id="br-42"><rect class="ns" x="486.5" y="969.5" width="21" height="21"/><text class="nl" x="497" y="986">42</text></g>
<g id="br-38a"><rect class="ns" x="643.5" y="901.5" width="21" height="21"/><text class="nl" x="654" y="918">38</text></g>
<g id="br-51"><rect class="ns" x="682.5" y="901.5" width="21" height="21" stroke-width="2"/><text class="nl" x="693" y="918">51</text></g>
<g id="br-35"><rect class="ns" x="726.5" y="901.5" width="21" height="21"/><text class="nl" x="737" y="918">35</text></g>
<g id="br-37"><rect class="ns" x="661.5" y="940.5" width="21" height="21"/><text class="nl" x="672" y="957">37</text></g>
<g id="br-45"><rect class="ns" x="747.5" y="939.5" width="21" height="21"/><text class="nl" x="758" y="956">45</text></g>
<g id="br-38"><rect class="ns" x="792.5" y="940.5" width="21" height="21"/><text class="nl" x="803" y="957">38</text></g>
<g id="br-49"><rect class="ns" x="682.5" y="976.5" width="21" height="21"/><text class="nl" x="693" y="993">49</text></g>
<g id="br-36"><rect class="ns" x="726.5" y="976.5" width="21" height="21"/><text class="nl" x="737" y="993">36</text></g>
<g id="br-41"><rect class="ns" x="667.5" y="1014.5" width="21" height="21"/><text class="nl" x="678" y="1031">41</text></g>
<g id="br-43"><rect class="ns" x="702.5" y="1014.5" width="21" height="21"/><text class="nl" x="713" y="1031">43</text></g>
<g id="br-13"><circle class="nc" cx="477" cy="1006" r="9"/><text class="nl" x="477" y="1012">13</text></g>
<g id="br-26"><circle class="nc" cx="453" cy="1035" r="9"/><text class="nl" x="453" y="1041">26</text></g>
<g id="br-47"><rect class="ns" x="495.5" y="1018.5" width="21" height="21"/><text class="nl" x="506" y="1035">47</text></g>
<g id="br-16"><circle class="nc" cx="483" cy="1058" r="9"/><text class="nl" x="483" y="1064">16</text></g>
<g id="br-2"><circle class="nc" cx="512" cy="1082" r="9"/><text class="nl" x="512" y="1088">2</text></g>
<g id="br-33b"><circle class="nc" cx="459" cy="1088" r="9"/><text class="nl" x="459" y="1094">33</text></g>
<g id="br-28"><circle class="nc" cx="489" cy="1110" r="9"/><text class="nl" x="489" y="1116">28</text></g>
<g id="br-30"><circle class="nc" cx="494" cy="1146" r="9"/><text class="nl" x="494" y="1152">30</text></g>
<g id="br-34"><circle class="nc" cx="548" cy="1144" r="9"/><text class="nl" x="548" y="1150">34</text></g>
<g id="br-14"><circle class="nc" cx="496" cy="1183" r="9"/><text class="nl" x="496" y="1189">14</text></g>
<g id="br-25"><circle class="nc" cx="533" cy="1179" r="9"/><text class="nl" x="533" y="1185">25</text></g>
<g id="br-15a"><circle class="nc" cx="462" cy="1205" r="9"/><text class="nl" x="462" y="1211">15</text></g>
<g id="br-32"><circle class="nc" cx="484" cy="1217" r="9"/><text class="nl" x="484" y="1223">32</text></g>
<g id="br-12"><circle class="nc" cx="505" cy="1246" r="9"/><text class="nl" x="505" y="1252">12</text></g>
<g id="br-20"><circle class="nc" cx="555" cy="1208" r="9"/><text class="nl" x="555" y="1214">20</text></g>
<g id="br-31"><circle class="nc" cx="571" cy="1219" r="9"/><text class="nl" x="571" y="1225">31</text></g>
<g id="br-24"><circle class="nc" cx="542" cy="1242" r="9"/><text class="nl" x="542" y="1248">24</text></g>
<g id="br-15"><circle class="nc" cx="575" cy="1257" r="9"/><text class="nl" x="575" y="1263">15</text></g>
<g id="br-22"><circle class="nc" cx="609" cy="1269" r="9"/><text class="nl" x="609" y="1275">22</text></g>
<g id="br-9"><circle class="nc" cx="647" cy="1267" r="9"/><text class="nl" x="647" y="1273">9</text></g>
<g id="br-27"><circle class="nc" cx="633" cy="1301" r="9"/><text class="nl" x="633" y="1307">27</text></g>
<g id="br-3"><circle class="nc" cx="654" cy="1328" r="9"/><text class="nl" x="654" y="1334">3</text></g>
<g id="br-21"><circle class="nc" cx="682" cy="1261" r="9"/><text class="nl" x="682" y="1267">21</text></g>
<g id="br-19"><circle class="nc" cx="704" cy="1232" r="9"/><text class="nl" x="704" y="1238">19</text></g>
<g id="br-10"><circle class="nc" cx="733" cy="1256" r="9"/><text class="nl" x="733" y="1262">10</text></g>
<g id="br-29"><circle class="nc" cx="712" cy="1285" r="9"/><text class="nl" x="712" y="1291">29</text></g>
<g id="br-30b"><circle class="nc" cx="747" cy="1283" r="9"/><text class="nl" x="747" y="1289">30</text></g>
<g id="br-53"><rect class="ns" x="720.5" y="1302.5" width="21" height="21"/><text class="nl" x="731" y="1319">53</text></g>
<g id="br-7"><circle class="nc" cx="772" cy="1250" r="9"/><text class="nl" x="772" y="1256">7</text></g>
<g id="br-4"><circle class="nc" cx="808" cy="1247" r="9"/><text class="nl" x="808" y="1253">4</text></g>
<g id="br-3b"><circle class="nc" cx="788" cy="1216" r="9"/><text class="nl" x="788" y="1222">3</text></g>
</g>
<g id="br-groups">
<ellipse class="rg" cx="485" cy="814" rx="50" ry="29" transform="rotate(-53 485 814)"/>
<ellipse class="rg" cx="478" cy="940" rx="55" ry="31" transform="rotate(70 478 940)"/>
<ellipse class="rg" cx="549" cy="926" rx="62" ry="33" transform="rotate(38 549 926)"/>
<ellipse class="rg" cx="742.5" cy="946" rx="29" ry="54" transform="rotate(-4 742.5 946)"/>
<ellipse class="rg" cx="476" cy="1021" rx="39" ry="26" transform="rotate(-5 476 1021)"/>
<ellipse class="rg" cx="493.5" cy="1083" rx="27.5" ry="38"/>
<ellipse class="rg" cx="508.5" cy="1213" rx="54" ry="27" transform="rotate(-47.5 508.5 1213)"/>
<ellipse class="rg" cx="556" cy="1222" rx="36" ry="20" transform="rotate(-52.6 556 1222)"/>
<ellipse class="rg" cx="628" cy="1279" rx="31" ry="29.5"/>
<ellipse class="rg" cx="706" cy="1244" rx="40" ry="29" transform="rotate(-8 706 1244)"/>
<ellipse class="bg" cx="494" cy="833" rx="75" ry="15" transform="rotate(33 494 833)"/>
<ellipse class="bg" cx="630" cy="821" rx="37.5" ry="38.5"/>
<ellipse class="bg" cx="757" cy="821" rx="38" ry="38"/>
<ellipse class="bg" cx="674" cy="928" rx="38" ry="42"/>
<ellipse class="bg" cx="694" cy="1007.5" rx="37.5" ry="37.5"/>
<ellipse class="bg" cx="522" cy="1163.5" rx="45" ry="13" transform="rotate(-36.7 522 1163.5)"/>
<ellipse class="bg" cx="478" cy="1194" rx="37" ry="12" transform="rotate(-33 478 1194)"/>
<ellipse class="bg" cx="789" cy="1235.5" rx="30.5" ry="30.5"/>
<ellipse class="bg" cx="730" cy="1295.5" rx="31" ry="29.5"/>
</g>
</svg>
